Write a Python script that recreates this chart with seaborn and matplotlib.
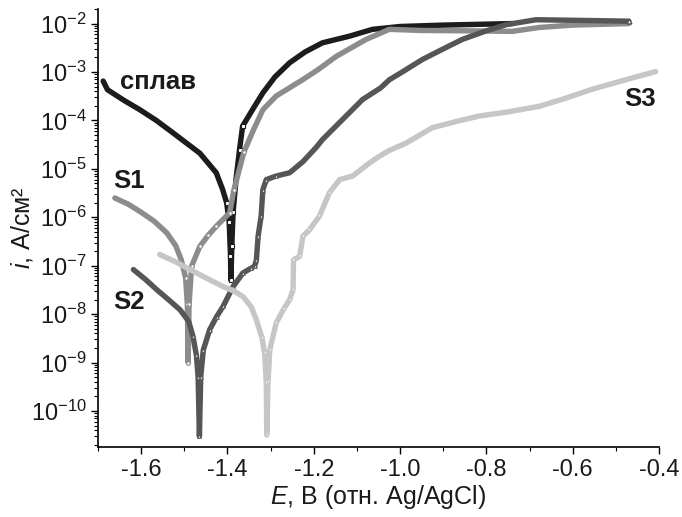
# поляризационные кривые: сплав и образцы S1-S3
import numpy as np
import pandas as pd
import matplotlib
matplotlib.use("Agg")
import matplotlib.pyplot as plt
import matplotlib.ticker as mticker
import seaborn as sns

# потенциал, В и ток, А/см2
E_splav = [-1.688, -1.678, -1.640, -1.603, -1.565, -1.527, -1.464, -1.426, -1.411, -1.402,
           -1.396, -1.393, -1.392, -1.390, -1.387, -1.380, -1.372, -1.365, -1.340, -1.318,
           -1.290, -1.256, -1.220, -1.180, -1.117, -1.064, -1.000, -0.900, -0.740]
i_splav = [6.5e-4, 4.3e-4, 2.6e-4, 1.66e-4, 1.0e-4, 5.6e-5, 2.1e-5, 8.3e-6, 3.7e-6, 2.0e-6,
           7.9e-7, 1.6e-7, 5.0e-8, 2.5e-7, 1.26e-6, 6.3e-6, 2.5e-5, 7.6e-5, 1.78e-4, 3.7e-4,
           7.9e-4, 1.55e-3, 2.6e-3, 4.0e-3, 5.5e-3, 7.6e-3, 8.7e-3, 9.3e-3, 1.0e-2]

E_s1 = [-1.661, -1.630, -1.603, -1.570, -1.541, -1.520, -1.507, -1.497, -1.493, -1.491,
        -1.489, -1.483, -1.464, -1.445, -1.426, -1.395, -1.385, -1.362, -1.340, -1.318,
        -1.287, -1.226, -1.190, -1.148, -1.079, -1.025, -0.950, -0.850, -0.740, -0.678,
        -0.600, -0.470]
i_s1 = [2.5e-6, 1.86e-6, 1.32e-6, 8.3e-7, 4.8e-7, 2.6e-7, 1.32e-7, 5.6e-8, 1.6e-8, 1.0e-9,
        1.6e-8, 9.8e-8, 2.5e-7, 4.2e-7, 6.5e-7, 1.23e-6, 3.7e-6, 2.2e-5, 6.3e-5, 1.66e-4,
        3.2e-4, 6.9e-4, 1.12e-3, 2.1e-3, 4.7e-3, 7.6e-3, 7.2e-3, 7.1e-3, 6.9e-3, 8.3e-3,
        9.3e-3, 1.0e-2]

E_s2 = [-1.618, -1.590, -1.564, -1.537, -1.510, -1.490, -1.480, -1.472, -1.468, -1.465,
        -1.462, -1.456, -1.441, -1.425, -1.410, -1.387, -1.364, -1.345, -1.337, -1.333,
        -1.329, -1.322, -1.318, -1.310, -1.287, -1.256, -1.225, -1.194, -1.180, -1.133,
        -1.087, -1.045, -1.025, -0.995, -0.948, -0.900, -0.856, -0.800, -0.754, -0.685,
        -0.600, -0.470]
i_s2 = [8.3e-8, 5.2e-8, 3.2e-8, 2.0e-8, 1.23e-8, 7.1e-9, 3.5e-9, 1.41e-9, 5.0e-10, 3.0e-11,
        5.0e-10, 1.82e-9, 4.8e-9, 8.9e-9, 1.45e-8, 3.7e-8, 7.1e-8, 8.9e-8, 9.8e-8, 1.32e-7,
        4.1e-7, 1.05e-6, 3.7e-6, 6.0e-6, 7.1e-6, 8.3e-6, 1.41e-5, 2.8e-5, 4.0e-5, 1.05e-4,
        2.7e-4, 4.7e-4, 6.9e-4, 1.0e-3, 1.82e-3, 3.0e-3, 4.7e-3, 7.1e-3, 9.5e-3, 1.2e-2,
        1.17e-2, 1.12e-2]

E_s3 = [-1.557, -1.520, -1.487, -1.450, -1.410, -1.385, -1.364, -1.345, -1.333, -1.320,
        -1.314, -1.310, -1.309, -1.306, -1.302, -1.287, -1.270, -1.256, -1.248, -1.247,
        -1.233, -1.225, -1.210, -1.187, -1.164, -1.140, -1.110, -1.071, -1.048, -1.025,
        -0.986, -0.925, -0.870, -0.817, -0.750, -0.678, -0.620, -0.555, -0.480, -0.408]
i_s3 = [1.7e-7, 1.2e-7, 8.3e-8, 5.6e-8, 3.7e-8, 3.0e-8, 2.3e-8, 1.41e-8, 7.6e-9, 3.2e-9,
        1.6e-9, 3.8e-10, 3.2e-11, 4.0e-10, 1.82e-9, 6.6e-9, 1.26e-8, 2.0e-8, 3.2e-8, 1.32e-7,
        1.55e-7, 4.1e-7, 5.5e-7, 1.05e-6, 3.2e-6, 6.0e-6, 7.1e-6, 1.32e-5, 1.82e-5, 2.4e-5,
        3.4e-5, 7.1e-5, 9.5e-5, 1.23e-4, 1.5e-4, 1.95e-4, 2.8e-4, 4.4e-4, 6.8e-4, 1.02e-3]

# подписи кривых: текст, E, i
podpisi = [("сплав", -1.650, 6.3e-4), ("S1", -1.665, 5.5e-6),
           ("S2", -1.665, 1.74e-8), ("S3", -0.481, 2.8e-4)]

sns.set_style("ticks")
plt.rcParams["font.family"] = ["Liberation Sans", "DejaVu Sans"]
plt.rcParams["mathtext.fontset"] = "custom"
plt.rcParams["mathtext.rm"] = "Liberation Sans"
plt.rcParams["mathtext.it"] = "Liberation Sans:italic"
plt.rcParams["axes.unicode_minus"] = False

fig = plt.figure(figsize=(6.82, 5.17), dpi=100)
ax = fig.add_axes([0.1437, 0.1354, 0.8226, 0.8472])

# данные, цвет, маркер, участок с видимыми маркерами (крутые части)
krivye = [
    (E_splav, i_splav, "#1c1c1c", "s", slice(9, 18)),
    (E_s1, i_s1, "#8c8c8c", "o", slice(7, 18)),
    (E_s2, i_s2, "#565656", "^", slice(6, 25)),
    (E_s3, i_s3, "#c6c6c6", "v", slice(9, 25)),
]
for E, i, col, mk, part in krivye:
    df = pd.DataFrame({"E": E, "i": i})
    sns.lineplot(data=df, x="E", y="i", sort=False, estimator=None,
                 color=col, lw=3.9, ax=ax)
    ax.plot(df["E"].iloc[part], df["i"].iloc[part], ls="none", marker=mk, ms=2.6,
            mfc="white", mec=col, mew=0.8)

# маркер на конце кривой S2
ax.plot(E_s2[-1], i_s2[-1], "^", ms=3.5, mfc="white", mec="#565656", mew=1)

for txt, x, y in podpisi:
    ax.text(x, y, txt, fontsize=18.5, fontweight="bold", ha="left", va="center",
            color="#1a1a1a")

ax.set_yscale("log")
ax.set_xlim(-1.7, -0.4)
ax.set_ylim(1.8e-11, 2.0e-2)
ax.xaxis.set_major_locator(mticker.MultipleLocator(0.2))
ax.xaxis.set_minor_locator(mticker.MultipleLocator(0.1))
ax.xaxis.set_major_formatter(mticker.FormatStrFormatter("%.1f"))
ax.yaxis.set_major_locator(mticker.LogLocator(base=10, numticks=100))
ax.yaxis.set_minor_locator(mticker.LogLocator(base=10, subs=np.arange(2, 10), numticks=100))
ax.yaxis.set_minor_formatter(mticker.NullFormatter())

ax.tick_params(which="major", direction="out", length=5, width=1, labelsize=17,
               color="black", labelcolor="#1a1a1a")
ax.tick_params(axis="x", which="major", pad=4)
ax.tick_params(axis="y", which="major", pad=3)
ax.tick_params(which="minor", direction="out", length=3, width=0.8, color="black")

for s in ["top", "right"]:
    ax.spines[s].set_visible(False)
for s in ["left", "bottom"]:
    ax.spines[s].set_linewidth(1.2)
    ax.spines[s].set_color("black")

ax.set_xlabel("$\\it{E}$, B (отн. Ag/AgCl)", fontsize=18, labelpad=1, color="#1a1a1a")
ax.set_ylabel("$\\it{i}$, A/см²", fontsize=18, color="#1a1a1a")
ax.yaxis.set_label_coords(-0.112, 0.5)

fig.savefig("out.png", dpi=100)
